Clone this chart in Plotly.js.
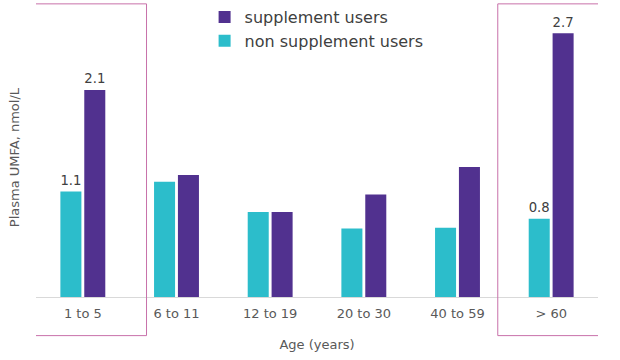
<!DOCTYPE html>
<html>
<head>
<meta charset="utf-8">
<script src="https://cdn.plot.ly/plotly-3.0.1.min.js"></script>
<style>html,body{margin:0;padding:0;background:#fff;}#chart{width:620px;height:360px;}</style>
</head>
<body>
<div id="chart"></div>
<script>
const categories = ['1 to 5', '6 to 11', '12 to 19', '20 to 30', '40 to 59', '> 60'];
const nonSupplement = [1.08, 1.18, 0.87, 0.70, 0.71, 0.80];
const supplement = [2.12, 1.25, 0.87, 1.05, 1.33, 2.70];
const nonSupplementLabels = ['1.1', '', '', '', '', '0.8'];
const supplementLabels = ['2.1', '', '', '', '', '2.7'];
const seriesNames = ['non supplement users', 'supplement users'];
const yTitle = 'Plasma UMFA, nmol/L';
const xTitle = 'Age (years)';

const FONT = 'Verdana, "DejaVu Sans", sans-serif';
const labelFont = {family: FONT, size: 15, color: '#404040'};

const traces = [
  {
    type: 'bar', name: seriesNames[0], x: categories, y: nonSupplement,
    marker: {color: '#2CBDCB'},
    text: nonSupplementLabels, textposition: 'outside', textfont: labelFont,
    cliponaxis: false, hoverinfo: 'skip'
  },
  {
    type: 'bar', name: seriesNames[1], x: categories, y: supplement,
    marker: {color: '#51318F'},
    text: supplementLabels, textposition: 'outside', textfont: labelFont,
    cliponaxis: false, hoverinfo: 'skip'
  }
];

const boxColor = '#C871AA';
const layout = {
  width: 620, height: 360,
  margin: {l: 36, r: 22, t: 0, b: 63},
  paper_bgcolor: '#ffffff', plot_bgcolor: '#ffffff',
  font: {family: FONT, color: '#595959'},
  barmode: 'group', bargap: 0.49, bargroupgap: 0.12,
  showlegend: true,
  legend: {
    x: 0.3, y: 1.0, xanchor: 'left', yanchor: 'top',
    traceorder: 'reversed', orientation: 'v',
    font: {family: FONT, size: 16, color: '#404040'},
    bgcolor: 'rgba(0,0,0,0)'
  },
  xaxis: {
    type: 'category', range: [-0.5, 5.5],
    showline: true, linecolor: '#D9D9D9', linewidth: 1,
    ticks: '', showgrid: false, zeroline: false,
    ticklabelstandoff: 4,
    tickfont: {family: FONT, size: 13, color: '#595959'},
    title: {text: xTitle, font: {family: FONT, size: 13, color: '#595959'}, standoff: 20}
  },
  yaxis: {
    range: [0, 3.04], showticklabels: false, showgrid: false, zeroline: false, showline: false, ticks: ''
  },
  annotations: [
    {text: yTitle, xref: 'paper', yref: 'paper', x: -0.039, y: 0.471,
     xanchor: 'center', yanchor: 'middle', textangle: -90, showarrow: false,
     font: {family: FONT, size: 13, color: '#595959'}}
  ],
  shapes: [
    {type: 'rect', xref: 'x', yref: 'paper', x0: -0.54, x1: 0.68, y0: -0.130, y1: 0.987,
     line: {color: boxColor, width: 1}, fillcolor: 'rgba(0,0,0,0)'},
    {type: 'rect', xref: 'x', yref: 'paper', x0: 4.43, x1: 5.64, y0: -0.130, y1: 0.987,
     line: {color: boxColor, width: 1}, fillcolor: 'rgba(0,0,0,0)'}
  ]
};

Plotly.newPlot('chart', traces, layout, {displayModeBar: false, staticPlot: true});
</script>
</body>
</html>
